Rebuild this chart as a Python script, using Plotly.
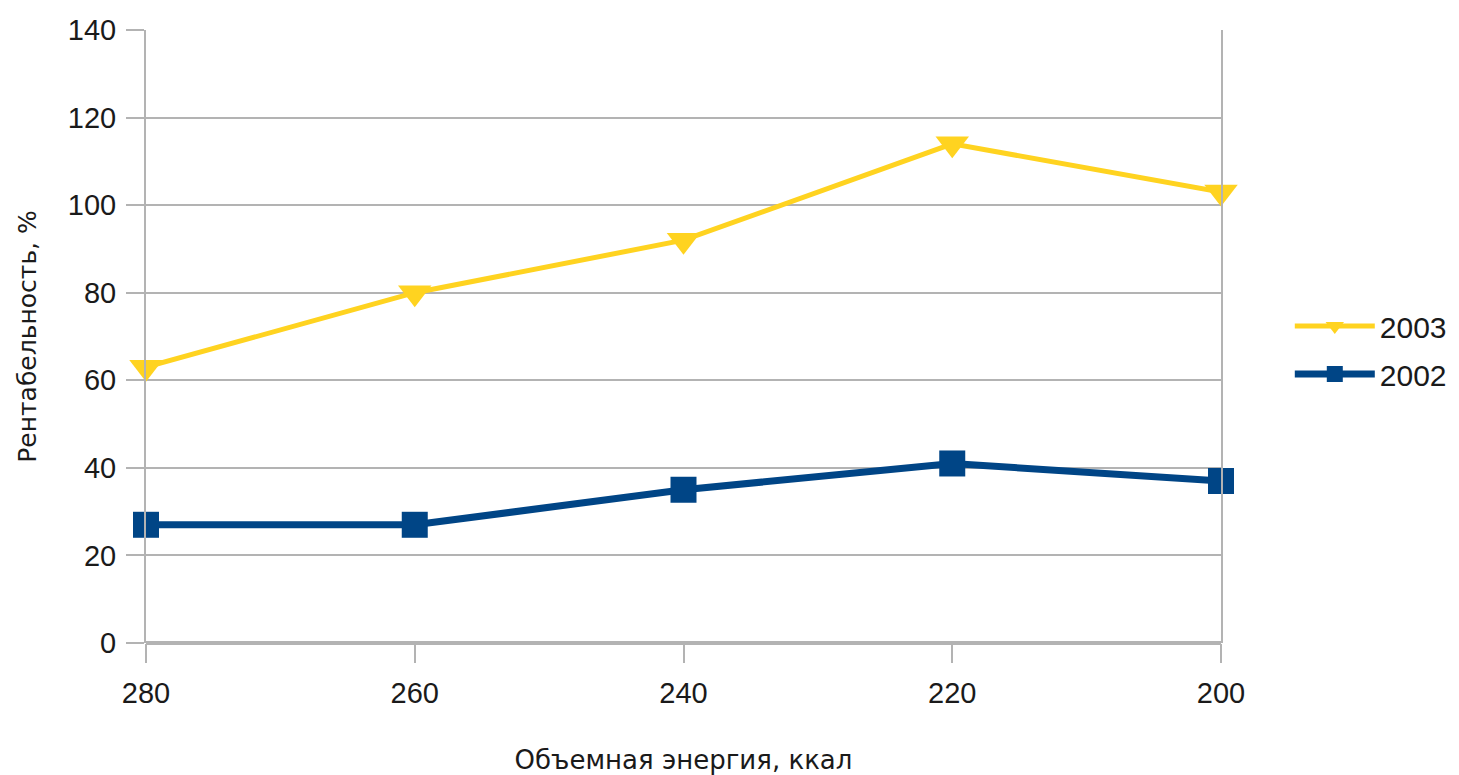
import plotly.graph_objects as go

# Category values on the x axis (volumetric energy, kcal)
energy = [280, 260, 240, 220, 200]

# Profitability, % per year
profit_2003 = [63, 80, 92, 114, 103]
profit_2002 = [27, 27, 35, 41, 37]

y_ticks = [0, 20, 40, 60, 80, 100, 120, 140]

YELLOW = "#FFD320"
BLUE = "#004586"
GRID = "#b3b3b3"
FONT = "Liberation Sans, Arial, sans-serif"
WIDE_FONT = "DejaVu Sans, Verdana, sans-serif"
TEXT = "#1a1a1a"

fig = go.Figure()

fig.add_trace(go.Scatter(
    x=energy, y=profit_2003, name="2003", mode="lines+markers",
    legendgroup="a",
    line=dict(color=YELLOW, width=5),
    marker=dict(symbol="triangle-down", size=29, color=YELLOW),
    cliponaxis=False,
))
fig.add_trace(go.Scatter(
    x=energy, y=profit_2002, name="2002", mode="lines+markers",
    legendgroup="b",
    line=dict(color=BLUE, width=7),
    marker=dict(symbol="square", size=26, color=BLUE),
    cliponaxis=False,
))

fig.update_layout(
    width=1459, height=775,
    margin=dict(l=146, r=238, t=30, b=132, autoexpand=False),
    paper_bgcolor="white", plot_bgcolor="white",
    font=dict(family=FONT, size=29, color=TEXT),
    showlegend=True,
    legend=dict(
        x=1.064, y=0.478, xanchor="left", yanchor="middle",
        font=dict(size=30, color=TEXT),
        itemwidth=80, traceorder="grouped", tracegroupgap=6,
    ),
)

fig.update_xaxes(
    range=[280, 200],
    tickmode="array", tickvals=energy, ticktext=[str(v) for v in energy],
    ticks="outside", ticklen=19, tickwidth=2, tickcolor=GRID,
    showgrid=False, zeroline=False,
    showline=False,
    ticklabelstandoff=5,
    title=dict(text="Объемная энергия, ккал",
               font=dict(family=WIDE_FONT, size=26), standoff=48),
)

fig.update_yaxes(
    range=[0, 140],
    tickmode="array", tickvals=y_ticks,
    ticks="outside", ticklen=18, tickwidth=2, tickcolor=GRID,
    showgrid=True, gridcolor=GRID, gridwidth=2,
    zeroline=True, zerolinecolor=GRID, zerolinewidth=4,
    showline=True, linecolor=GRID, linewidth=2, mirror=True,
    ticklabelstandoff=4,
    title=dict(text="Рентабельность, %",
               font=dict(family=WIDE_FONT, size=25), standoff=24),
)

fig.write_html("out.html")
